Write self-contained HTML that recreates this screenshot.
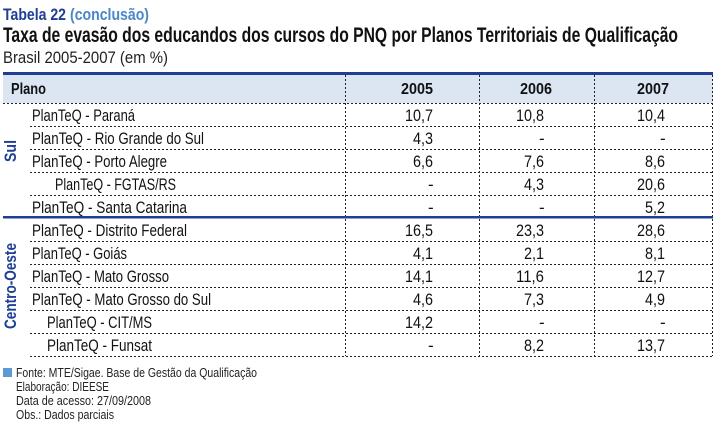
<!DOCTYPE html>
<html><head><meta charset="utf-8"><style>
html,body{margin:0;padding:0;background:#fff;}
svg{display:block;font-family:"Liberation Sans Narrow","Liberation Sans",sans-serif;}
</style></head><body>
<svg width="717" height="426" viewBox="0 0 717 426" xmlns="http://www.w3.org/2000/svg">
<text x="3" y="20" font-size="17" font-weight="bold" fill="#1f3f95" textLength="63" lengthAdjust="spacingAndGlyphs">Tabela 22</text>
<text x="70" y="20" font-size="17" font-weight="bold" fill="#4a86c8" textLength="79" lengthAdjust="spacingAndGlyphs">(conclusão)</text>
<text x="3" y="42" font-size="21" font-weight="bold" fill="#111" textLength="675" lengthAdjust="spacingAndGlyphs">Taxa de evasão dos educandos dos cursos do PNQ por Planos Territoriais de Qualificação</text>
<text x="3" y="63" font-size="17" fill="#222" textLength="165" lengthAdjust="spacingAndGlyphs">Brasil 2005-2007 (em %)</text>
<rect x="3" y="74" width="710" height="29" fill="#dce6f2"/>
<rect x="3" y="72" width="710" height="3" fill="#1f3f95"/>
<text x="11" y="94" font-size="16" font-weight="bold" fill="#111" textLength="35" lengthAdjust="spacingAndGlyphs">Plano</text>
<text x="401" y="94" font-size="16" font-weight="bold" fill="#111" textLength="32" lengthAdjust="spacingAndGlyphs">2005</text>
<text x="520" y="94" font-size="16" font-weight="bold" fill="#111" textLength="32" lengthAdjust="spacingAndGlyphs">2006</text>
<text x="637" y="94" font-size="16" font-weight="bold" fill="#111" textLength="32" lengthAdjust="spacingAndGlyphs">2007</text>
<g stroke="#222" stroke-width="1" stroke-dasharray="2,2" fill="none">
<line x1="3" y1="103.5" x2="713" y2="103.5"/>
<line x1="30" y1="126.5" x2="713" y2="126.5"/>
<line x1="30" y1="149.5" x2="713" y2="149.5"/>
<line x1="30" y1="172.5" x2="713" y2="172.5"/>
<line x1="30" y1="195.5" x2="713" y2="195.5"/>
<line x1="30" y1="241.5" x2="713" y2="241.5"/>
<line x1="30" y1="264.5" x2="713" y2="264.5"/>
<line x1="30" y1="287.5" x2="713" y2="287.5"/>
<line x1="30" y1="310.5" x2="713" y2="310.5"/>
<line x1="30" y1="333.5" x2="713" y2="333.5"/>
<line x1="30" y1="356.5" x2="713" y2="356.5"/>
<line x1="345.5" y1="75" x2="345.5" y2="356"/>
<line x1="479.5" y1="75" x2="479.5" y2="356"/>
<line x1="594.5" y1="75" x2="594.5" y2="356"/>
<line x1="712.5" y1="75" x2="712.5" y2="356"/>
</g>
<rect x="3" y="216" width="710" height="2.5" fill="#1f3f95"/>
<text transform="translate(16,151) rotate(-90)" font-size="17" font-weight="bold" fill="#1f3f95" textLength="22" lengthAdjust="spacingAndGlyphs" x="-11">Sul</text>
<text transform="translate(16,286) rotate(-90)" font-size="17" font-weight="bold" fill="#1f3f95" x="-43" textLength="86" lengthAdjust="spacingAndGlyphs">Centro-Oeste</text>
<g font-size="17" fill="#111">
<text x="32" y="121" textLength="103" lengthAdjust="spacingAndGlyphs">PlanTeQ - Paraná</text>
<text x="32" y="144" textLength="172" lengthAdjust="spacingAndGlyphs">PlanTeQ - Rio Grande do Sul</text>
<text x="32" y="167" textLength="135" lengthAdjust="spacingAndGlyphs">PlanTeQ - Porto Alegre</text>
<text x="55" y="190" textLength="121" lengthAdjust="spacingAndGlyphs">PlanTeQ - FGTAS/RS</text>
<text x="32" y="213" textLength="155" lengthAdjust="spacingAndGlyphs">PlanTeQ - Santa Catarina</text>
<text x="32" y="236" textLength="155" lengthAdjust="spacingAndGlyphs">PlanTeQ - Distrito Federal</text>
<text x="32" y="259" textLength="95" lengthAdjust="spacingAndGlyphs">PlanTeQ - Goiás</text>
<text x="32" y="282" textLength="137" lengthAdjust="spacingAndGlyphs">PlanTeQ - Mato Grosso</text>
<text x="32" y="305" textLength="179" lengthAdjust="spacingAndGlyphs">PlanTeQ - Mato Grosso do Sul</text>
<text x="47" y="328" textLength="105" lengthAdjust="spacingAndGlyphs">PlanTeQ - CIT/MS</text>
<text x="47" y="351" textLength="105" lengthAdjust="spacingAndGlyphs">PlanTeQ - Funsat</text>
</g>
<g font-size="17" fill="#111">
<text x="405" y="121" textLength="28" lengthAdjust="spacingAndGlyphs">10,7</text><text x="516" y="121" textLength="28" lengthAdjust="spacingAndGlyphs">10,8</text><text x="637" y="121" textLength="28" lengthAdjust="spacingAndGlyphs">10,4</text>
<text x="413" y="144" textLength="20" lengthAdjust="spacingAndGlyphs">4,3</text><text x="539" y="144">-</text><text x="660" y="144">-</text>
<text x="413" y="167" textLength="20" lengthAdjust="spacingAndGlyphs">6,6</text><text x="524" y="167" textLength="20" lengthAdjust="spacingAndGlyphs">7,6</text><text x="645" y="167" textLength="20" lengthAdjust="spacingAndGlyphs">8,6</text>
<text x="428" y="190">-</text><text x="524" y="190" textLength="20" lengthAdjust="spacingAndGlyphs">4,3</text><text x="637" y="190" textLength="28" lengthAdjust="spacingAndGlyphs">20,6</text>
<text x="428" y="213">-</text><text x="539" y="213">-</text><text x="645" y="213" textLength="20" lengthAdjust="spacingAndGlyphs">5,2</text>
<text x="405" y="236" textLength="28" lengthAdjust="spacingAndGlyphs">16,5</text><text x="516" y="236" textLength="28" lengthAdjust="spacingAndGlyphs">23,3</text><text x="637" y="236" textLength="28" lengthAdjust="spacingAndGlyphs">28,6</text>
<text x="413" y="259" textLength="20" lengthAdjust="spacingAndGlyphs">4,1</text><text x="524" y="259" textLength="20" lengthAdjust="spacingAndGlyphs">2,1</text><text x="645" y="259" textLength="20" lengthAdjust="spacingAndGlyphs">8,1</text>
<text x="405" y="282" textLength="28" lengthAdjust="spacingAndGlyphs">14,1</text><text x="516" y="282" textLength="28" lengthAdjust="spacingAndGlyphs">11,6</text><text x="637" y="282" textLength="28" lengthAdjust="spacingAndGlyphs">12,7</text>
<text x="413" y="305" textLength="20" lengthAdjust="spacingAndGlyphs">4,6</text><text x="524" y="305" textLength="20" lengthAdjust="spacingAndGlyphs">7,3</text><text x="645" y="305" textLength="20" lengthAdjust="spacingAndGlyphs">4,9</text>
<text x="405" y="328" textLength="28" lengthAdjust="spacingAndGlyphs">14,2</text><text x="539" y="328">-</text><text x="660" y="328">-</text>
<text x="428" y="351">-</text><text x="524" y="351" textLength="20" lengthAdjust="spacingAndGlyphs">8,2</text><text x="637" y="351" textLength="28" lengthAdjust="spacingAndGlyphs">13,7</text>
</g>
<rect x="3" y="368" width="9" height="9" fill="#5b9bd5"/>
<g font-size="13" fill="#222">
<text x="16" y="377" textLength="241" lengthAdjust="spacingAndGlyphs">Fonte: MTE/Sigae. Base de Gestão da Qualificação</text>
<text x="16" y="391" textLength="93" lengthAdjust="spacingAndGlyphs">Elaboração: DIEESE</text>
<text x="16" y="405" textLength="135" lengthAdjust="spacingAndGlyphs">Data de acesso: 27/09/2008</text>
<text x="16" y="419" textLength="98" lengthAdjust="spacingAndGlyphs">Obs.: Dados parciais</text>
</g>
</svg>
</body></html>
